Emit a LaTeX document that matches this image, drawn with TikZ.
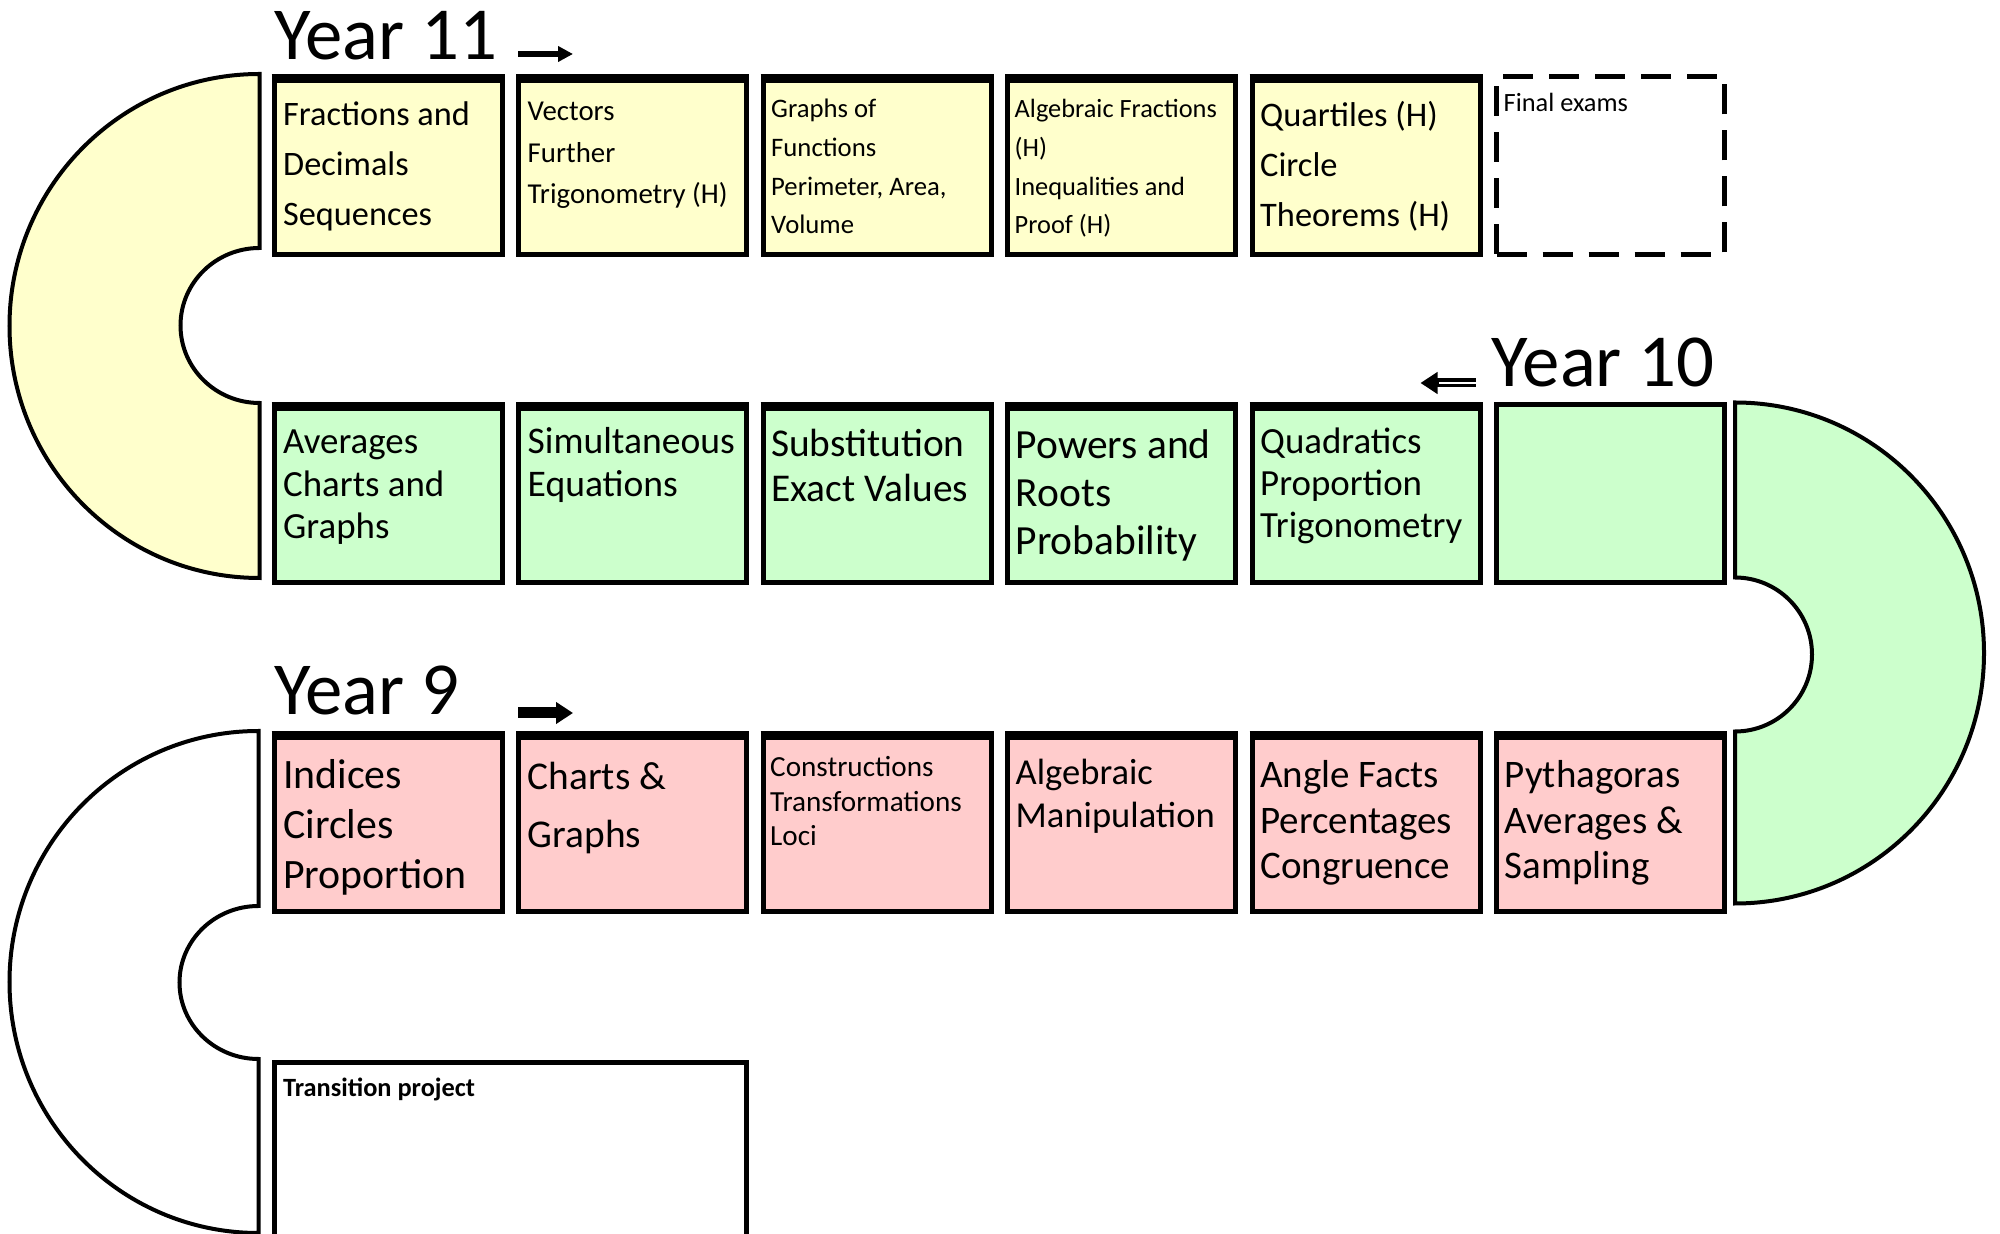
\documentclass[tikz,border=0pt]{standalone}
\usepackage{fontspec}
\setmainfont{Carlito}
\usetikzlibrary{arrows.meta,positioning}

\definecolor{elevenfill}{RGB}{255,255,204}
\definecolor{tenfill}{RGB}{204,255,204}
\definecolor{ninefill}{RGB}{255,204,204}
\newcommand{\fsz}[2]{\fontsize{#1}{#2}\selectfont}
\newcommand{\topics}[1]{\begin{tabular}[t]{@{}l@{}}#1\end{tabular}}

\begin{document}
\begin{tikzpicture}
  [x=1mm,y=1mm,node distance=32.85mm and 24.45mm,on grid,
   topic/.style={rectangle,draw,line width=0.5mm,minimum width=22.8mm,
                 minimum height=17.8mm,inner sep=0pt},
   heavy/.style={topic,append after command={([yshift=-0.45mm]\tikzlastnode.north west)
                 edge[line width=0.9mm] ([yshift=-0.45mm]\tikzlastnode.north east)}},
   eleven/.style={heavy,fill=elevenfill},
   ten/.style={heavy,fill=tenfill},
   nine/.style={heavy,fill=ninefill},
   exam/.style={topic,dash pattern=on 3mm off 1.6mm},
   words/.style={anchor=base west,inner sep=0pt},
   year/.style={anchor=base west,inner sep=0pt,font=\fsz{21.3}{25}},
   uturn/.style={draw,line width=0.4mm},
   way/.style={line width=#1,-{Triangle[length=1.7mm,width=2.1mm]}},
   stripe/.style={postaction={draw=white,line width=0.12mm,arrows=-,shorten >=1.8mm}}]

  \useasboundingbox (0,0) rectangle (200,-123.4);

  % Year 11
  \node[eleven] (eleven1) at (38.8,-16.55) {};
  \node[eleven] (eleven2) [right=of eleven1] {};
  \node[eleven] (eleven3) [right=of eleven2] {};
  \node[eleven] (eleven4) [right=of eleven3] {};
  \node[eleven] (eleven5) [right=of eleven4] {};
  \node[exam]   (eleven6) [right=of eleven5] {};

  % Year 10
  \node[ten] (ten1) [below=of eleven1] {};
  \node[ten] (ten2) [below=of eleven2] {};
  \node[ten] (ten3) [below=of eleven3] {};
  \node[ten] (ten4) [below=of eleven4] {};
  \node[ten] (ten5) [below=of eleven5] {};
  \node[topic,fill=tenfill] (ten6) [below=of eleven6] {};

  % Year 9
  \node[nine] (nine1) [below=of ten1] {};
  \node[nine] (nine2) [below=of ten2] {};
  \node[nine] (nine3) [below=of ten3] {};
  \node[nine] (nine4) [below=of ten4] {};
  \node[nine] (nine5) [below=of ten5] {};
  \node[nine] (nine6) [below=of ten6] {};
  \node[topic,minimum width=47.25mm] (project) [below=of nine1,xshift=12.225mm] {};

  % the turns
  \draw[uturn,fill=elevenfill] ([xshift=-1.2mm]eleven1.north west)
    arc[start angle=90,end angle=270,x radius=25,y radius=25.2] -- ++(0,17.5)
    arc[start angle=270,end angle=90,x radius=7.9,y radius=7.75] -- cycle;
  \draw[uturn,fill=tenfill] ([xshift=0.8mm]ten6.north east)
    arc[start angle=90,end angle=-90,x radius=24.9,y radius=25.05] -- ++(0,17.2)
    arc[start angle=-90,end angle=90,x radius=7.7,y radius=7.7] -- cycle;
  \draw[uturn] ([xshift=-1.3mm]nine1.north west)
    arc[start angle=90,end angle=270,x radius=24.9,y radius=25.1] -- ++(0,17.4)
    arc[start angle=270,end angle=90,x radius=7.9,y radius=7.65] -- cycle;

  % topics
  \node[words,font=\fsz{9.75}{14.2}] (eleven1t) at ([shift={(1.1,-5.2)}]eleven1.north west)
    {\topics{Fractions and\\Decimals\\Sequences}};
  \node[words,font=\fsz{8.2}{11.7}] (eleven2t) at ([shift={(1.1,-4.7)}]eleven2.north west)
    {\topics{Vectors\\Further\\Trigonometry (H)}};
  \node[words,font=\fsz{7.6}{11}] (eleven3t) at ([shift={(1.0,-4.4)}]eleven3.north west)
    {\topics{Graphs of\\Functions\\Perimeter, Area,\\Volume}};
  \node[words,font=\fsz{7.5}{11}] (eleven4t) at ([shift={(0.9,-4.4)}]eleven4.north west)
    {\topics{Algebraic Fractions\\(H)\\Inequalities and\\Proof (H)}};
  \node[words,font=\fsz{9.8}{14.2}] (eleven5t) at ([shift={(1.0,-5.3)}]eleven5.north west)
    {\topics{Quartiles (H)\\Circle\\Theorems (H)}};
  \node[words,font=\fsz{7.5}{9}] (eleven6t) at ([shift={(0.9,-3.8)}]eleven6.north west)
    {Final exams};

  \node[words,font=\fsz{10.5}{12.1}] (ten1t) at ([shift={(1.1,-5.1)}]ten1.north west)
    {\topics{Averages\\Charts and\\Graphs}};
  \node[words,font=\fsz{10.7}{12.1}] (ten2t) at ([shift={(1.1,-5.1)}]ten2.north west)
    {\topics{Simultaneous\\Equations}};
  \node[words,font=\fsz{11.2}{12.8}] (ten3t) at ([shift={(1.0,-5.4)}]ten3.north west)
    {\topics{Substitution\\Exact Values}};
  \node[words,font=\fsz{11.8}{13.7}] (ten4t) at ([shift={(1.0,-5.6)}]ten4.north west)
    {\topics{Powers and\\Roots\\Probability}};
  \node[words,font=\fsz{10.5}{12}] (ten5t) at ([shift={(1.0,-5.1)}]ten5.north west)
    {\topics{Quadratics\\Proportion\\Trigonometry}};

  \node[words,font=\fsz{11.9}{14.1}] (nine1t) at ([shift={(1.1,-5.8)}]nine1.north west)
    {\topics{Indices\\Circles\\Proportion}};
  \node[words,font=\fsz{11.2}{16.5}] (nine2t) at ([shift={(1.1,-5.9)}]nine2.north west)
    {\topics{Charts \&\\Graphs}};
  \node[words,font=\fsz{8.3}{9.7}] (nine3t) at ([shift={(0.9,-4.6)}]nine3.north west)
    {\topics{Constructions\\Transformations\\Loci}};
  \node[words,font=\fsz{10.4}{12.2}] (nine4t) at ([shift={(1.0,-5.4)}]nine4.north west)
    {\topics{Algebraic\\Manipulation}};
  \node[words,font=\fsz{11.1}{12.9}] (nine5t) at ([shift={(1.0,-5.7)}]nine5.north west)
    {\topics{Angle Facts\\Percentages\\Congruence}};
  \node[words,font=\fsz{11.1}{12.9}] (nine6t) at ([shift={(1.0,-5.7)}]nine6.north west)
    {\topics{Pythagoras\\Averages \&\\Sampling}};
  \node[words,font=\fsz{7.5}{9}\bfseries] (projectt) at ([shift={(1.1,-3.7)}]project.north west)
    {Transition project};

  % years and directions
  \node[year] (y11) at ([shift={(0.2,1.4)}]eleven1.north west) {Year 11};
  \node[year] (y10) at ([shift={(-0.3,1.6)}]ten6.north west) {Year 10};
  \node[year] (y9)  at ([shift={(0.2,1.6)}]nine1.north west) {Year 9};

  \draw[way=0.6mm,-{Triangle[length=1.5mm,width=1.5mm]}]
    ([shift={(0.2,2.0)}]eleven2.north west) -- ++(5.5,0);
  \draw[way=0.9mm,stripe] ([shift={(-0.7,1.95)}]ten5.north east) -- ++(-5.5,0);
  \draw[way=1.1mm] ([shift={(0.2,1.8)}]nine2.north west) -- ++(5.5,0);

\end{tikzpicture}
\end{document}
